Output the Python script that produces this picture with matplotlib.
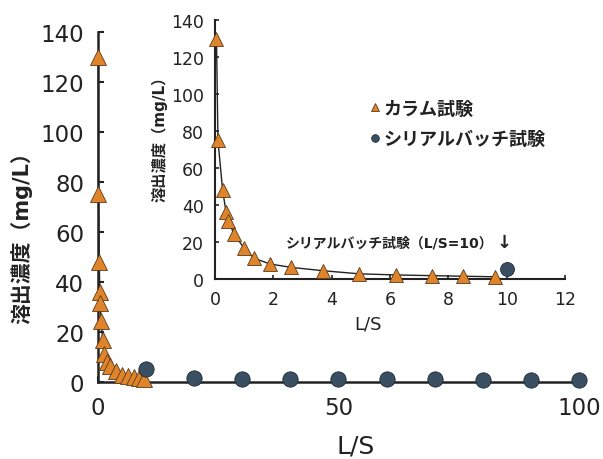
import matplotlib
matplotlib.use("Agg")
import matplotlib.pyplot as plt

plt.rcParams['font.family'] = ['DejaVu Sans', 'Noto Sans CJK JP']

# カラム試験 (column leaching test)
col_ls = [0.05, 0.1, 0.26, 0.38, 0.46, 0.65, 1.0, 1.34, 1.89, 2.6,
          3.69, 4.94, 6.2, 7.45, 8.51, 9.6]
col_conc = [130, 75, 48, 36, 31.5, 24.3, 16.6, 11.2, 8.1, 6.3,
            4.5, 2.8, 2.2, 1.8, 1.5, 1.2]

# シリアルバッチ試験 (serial batch test)
bat_ls = [10, 20, 30, 40, 50, 60, 70, 80, 90, 100]
bat_conc = [5.2, 1.5, 1.3, 1.2, 1.1, 1.0, 1.0, 0.9, 0.9, 0.8]

orange = '#E0842C'
navy = '#3B4F62'
ink = '#222222'

fig = plt.figure(figsize=(6.03, 4.6), dpi=100)

# main axes, L/S 0-100
ax = fig.add_axes([0.1625, 0.1674, 0.7977, 0.761])
ax.plot(col_ls, col_conc, color=ink, lw=1.0, zorder=2, clip_on=False)
ax.plot(col_ls, col_conc, ls='none', marker='^', ms=12, mfc=orange,
        mec='#5a3a1a', mew=0.6, zorder=3, clip_on=False)
ax.plot(bat_ls, bat_conc, ls='none', marker='o', ms=11, mfc=navy,
        mec='#1e2a36', mew=0.6, zorder=4, clip_on=False)
ax.set_xlim(0, 100)
ax.set_ylim(0, 140)
ax.set_xticks([0, 50, 100])
ax.set_yticks(range(0, 141, 20))
for s in ['top', 'right']:
    ax.spines[s].set_visible(False)
for s in ['left', 'bottom']:
    ax.spines[s].set_linewidth(1.8)
    ax.spines[s].set_color(ink)
ax.tick_params(direction='in', length=4.5, width=1.5, labelsize=16.5,
               colors=ink, pad=10)
ax.set_xlabel('L/S', fontsize=18, color=ink, va='baseline')
ax.xaxis.set_label_coords(0.535, -0.2)
ax.set_ylabel('溶出濃度（mg/L）', fontsize=15, color=ink, fontweight='bold')
ax.yaxis.set_label_coords(-0.137, 0.43)
ax.patch.set_alpha(0)

# inset, L/S 0-12
ins = fig.add_axes([0.3566, 0.3913, 0.5804, 0.563])
ins.plot(col_ls, col_conc, color=ink, lw=1.0, zorder=2, clip_on=False)
ins.plot(col_ls, col_conc, ls='none', marker='^', ms=10, mfc=orange,
         mec='#5a3a1a', mew=0.6, zorder=3, clip_on=False,
         label='カラム試験')
ins.plot(bat_ls[:1], bat_conc[:1], ls='none', marker='o', ms=10, mfc=navy,
         mec='#1e2a36', mew=0.6, zorder=4, clip_on=False,
         label='シリアルバッチ試験')
ins.set_xlim(0, 12)
ins.set_ylim(0, 140)
ins.set_xticks(range(0, 13, 2))
ins.set_yticks(range(0, 141, 20))
for s in ['top', 'right']:
    ins.spines[s].set_visible(False)
for s in ['left', 'bottom']:
    ins.spines[s].set_linewidth(1.5)
    ins.spines[s].set_color(ink)
ins.tick_params(direction='in', length=3, width=1.2, labelsize=12.5,
                colors=ink, pad=8)
ins.set_xlabel('L/S', fontsize=13, color=ink, va='baseline')
ins.xaxis.set_label_coords(0.437, -0.193)
ins.set_ylabel('溶出濃度（mg/L）', fontsize=11, color=ink, fontweight='bold')
ins.yaxis.set_label_coords(-0.135, 0.56)
ins.patch.set_facecolor('white')

leg = ins.legend(loc='upper left', bbox_to_anchor=(0.42, 0.72), frameon=False,
                 handlelength=0.6, handletextpad=0.2, labelspacing=0.7,
                 markerscale=0.55, borderaxespad=0,
                 prop={'size': 13, 'weight': 'bold'})
for t in leg.get_texts():
    t.set_color(ink)

ins.text(9.55, 20, 'シリアルバッチ試験（L/S=10）', fontsize=10, fontweight='bold',
         color=ink, ha='right', va='center')
ins.text(9.9, 20, '↓', fontsize=13, fontweight='bold', color=ink,
         ha='center', va='center')

fig.savefig('out.png', dpi=100)
